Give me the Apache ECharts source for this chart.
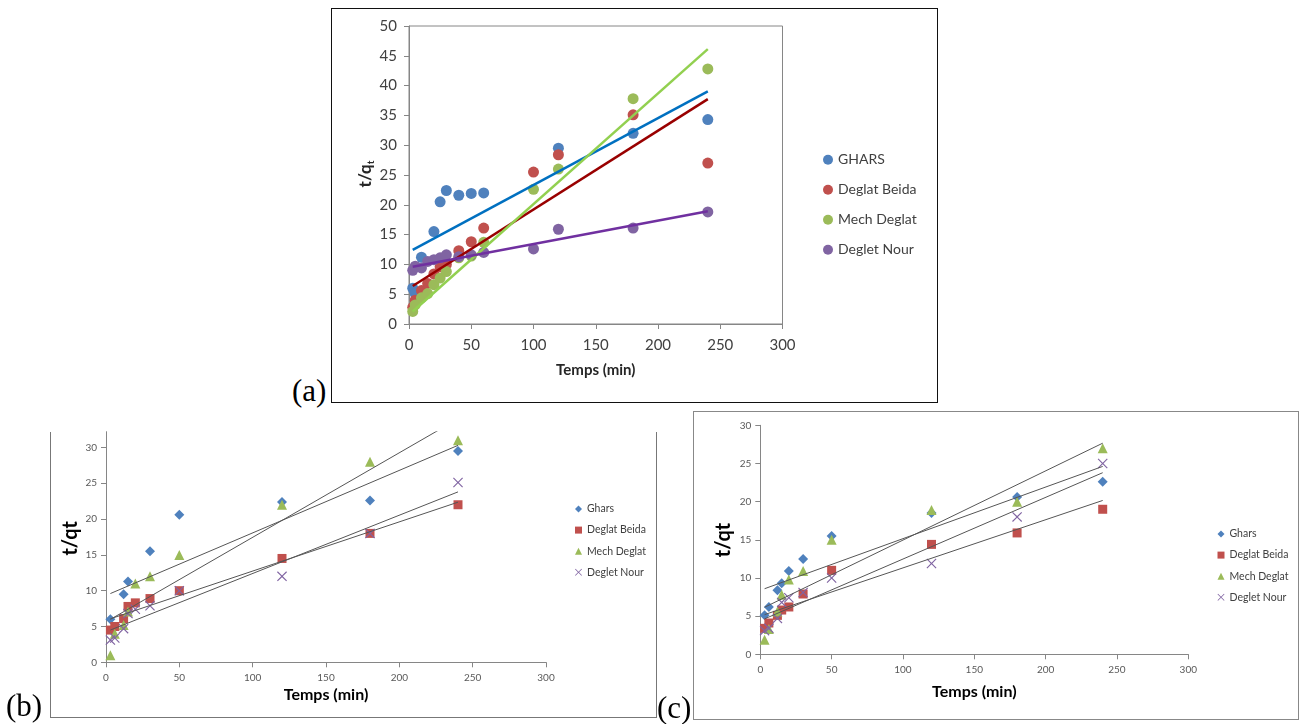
<!DOCTYPE html>
<html>
<head>
<meta charset="utf-8">
<script src="https://cdn.jsdelivr.net/npm/echarts@6/dist/echarts.min.js"></script>
<style>
  html, body { margin: 0; padding: 0; background: #fff; width: 1310px; height: 724px; overflow: hidden; }
  .abs { position: absolute; }
  #frameA { left: 331px; top: 8px; width: 605px; height: 393px; border: 1px solid #111; }
  #frameB { left: 50px; top: 432px; width: 605px; height: 285px;
            border-left: 1px solid #777; border-right: 1px solid #777; border-bottom: 1px solid #777; }
  #frameC { left: 693px; top: 411px; width: 604px; height: 307px; border: 1px solid #888; }
  .tag { font-family: 'Liberation Serif', 'DejaVu Serif', serif; font-size: 31px; line-height: 31px; color: #000; }
</style>
</head>
<body>
<div id="frameA" class="abs"></div>
<div id="frameB" class="abs"></div>
<div id="frameC" class="abs"></div>
<div id="chartA" class="abs" style="left:331px;top:8px;width:606px;height:394px"></div>
<div id="chartB" class="abs" style="left:0px;top:425px;width:690px;height:299px"></div>
<div id="chartC" class="abs" style="left:693px;top:411px;width:606px;height:309px"></div>
<div class="abs tag" style="left:292px;top:375px">(a)</div>
<div class="abs tag" style="left:6px;top:690px">(b)</div>
<div class="abs tag" style="left:657px;top:692px">(c)</div>
<script>
// ---------- (a) t/qt versus contact time, four date varieties ----------
const namesA = ['GHARS', 'Deglat Beida', 'Mech Deglat', 'Deglet Nour'];
const timesA = [3, 5, 10, 15, 20, 25, 30, 40, 50, 60, 100, 120, 180, 240];
const gharsA = [6.0, 5.1, 11.2, null, 15.5, 20.5, 22.4, 21.6, 21.9, 22.0, null, 29.5, 32.0, 34.3];
const beidaA = [2.8, 4.0, 5.6, 6.8, 8.4, 9.6, 10.0, 12.3, 13.8, 16.1, 25.5, 28.4, 35.1, 27.0];
const mechA  = [2.1, 3.2, 4.4, 5.1, 6.6, 7.7, 8.8, 11.1, 11.4, 13.7, 22.6, 26.0, 37.8, 42.8];
const nourA  = [9.0, 9.7, 9.4, 10.5, 10.8, 11.1, 11.6, 11.3, 11.6, 12.0, 12.6, 15.9, 16.1, 18.8];
// linear trend lines: t/qt = slope * t + intercept
const slopesA     = [0.1122, 0.1323, 0.1857, 0.0392];
const interceptsA = [12.11, 5.98, 1.55, 9.50];
const xTicksA = [0, 50, 100, 150, 200, 250, 300];
const yTicksA = [0, 5, 10, 15, 20, 25, 30, 35, 40, 45, 50];

// ---------- (b) ----------
const namesBC = ['Ghars', 'Deglat Beida', 'Mech Deglat', 'Deglet Nour'];
const timesBC = [3, 6, 12, 15, 20, 30, 50, 120, 180, 240];
const gharsB = [6.0, null, 9.5, 11.3, null, 15.5, 20.6, 22.4, 22.6, 29.5];
const beidaB = [4.5, 5.0, 6.1, 7.8, 8.3, 8.9, 10.0, 14.5, 18.0, 22.0];
const mechB  = [1.0, 4.0, 5.2, 7.1, 11.0, 12.0, 15.0, 22.0, 28.0, 31.0];
const nourB  = [3.1, 3.4, 4.7, 6.8, 7.4, 7.9, 10.0, 12.0, 18.0, 25.1];
const slopesB     = [0.0873, 0.0687, 0.1181, 0.0814];
const interceptsB = [9.34, 5.87, 5.64, 4.26];
const yTicksB = [0, 5, 10, 15, 20, 25, 30];
const yTopB = 32.2;

// ---------- (c) ----------
const gharsC = [5.1, 6.2, 8.4, 9.3, 10.9, 12.5, 15.5, 18.5, 20.6, 22.6];
const beidaC = [3.4, 4.1, 5.1, 5.8, 6.2, 7.9, 11.0, 14.4, 15.9, 19.0];
const mechC  = [1.9, 3.3, 5.6, 7.8, 9.8, 10.9, 15.0, 18.9, 20.0, 27.0];
const nourC  = [3.1, 3.4, 4.7, 6.8, 7.4, 8.1, 10.0, 11.9, 18.0, 25.0];
const slopesC     = [0.0676, 0.0631, 0.0907, 0.0808];
const interceptsC = [8.39, 5.01, 5.89, 4.40];
const xTicksBC = [0, 50, 100, 150, 200, 250, 300];
const yTicksC = [0, 5, 10, 15, 20, 25, 30];

const trendSpan = [3, 240];

const markerColors = ['#4F81BD', '#C0504D', '#9BBB59', '#8064A2'];
const trendColorsA = ['#0070C0', '#990000', '#92D050', '#7030A0'];
const crossPath = 'path://M0,8L8,0L50,42L92,0L100,8L58,50L100,92L92,100L50,58L8,100L0,92L42,50Z';
const symbolsBC = ['diamond', 'rect', 'triangle', crossPath];
const symbolSizesBC = [10, 9, 10, 10];

const uiFont = 'Lato, "Open Sans", "Liberation Sans", sans-serif';

function pairs(xs, ys) {
  return xs.map((x, i) => [x, ys[i]]).filter(p => p[1] !== null);
}
function trendData(slope, intercept) {
  return trendSpan.map(t => [t, slope * t + intercept]);
}

function makeSeries(names, xs, valueLists, slopes, intercepts, opts) {
  const scatter = names.map((name, i) => ({
    name: name,
    type: 'scatter',
    data: pairs(xs, valueLists[i]),
    symbol: opts.symbols[i],
    symbolSize: opts.sizes[i],
    itemStyle: { color: markerColors[i], opacity: 1 },
    emphasis: { disabled: true },
    z: 2
  }));
  const lines = names.map((name, i) => ({
    name: name + ' (linéaire)',
    type: 'line',
    data: trendData(slopes[i], intercepts[i]),
    showSymbol: false,
    symbol: 'none',
    silent: true,
    clip: true,
    lineStyle: { color: opts.lineColors[i], width: opts.lineWidth },
    z: 3
  }));
  return scatter.concat(lines);
}

function axisCommon(ticks, fontSize, labelColor, margin) {
  return {
    type: 'value',
    min: ticks[0],
    max: ticks[ticks.length - 1],
    interval: ticks[1] - ticks[0],
    axisLine: { show: true, lineStyle: { color: '#868686', width: 1 } },
    axisTick: { show: true, inside: false, length: 5, lineStyle: { color: '#868686' } },
    axisLabel: { color: labelColor, fontSize: fontSize, fontFamily: uiFont, margin: margin },
    splitLine: { show: false }
  };
}

// ---------- chart (a) ----------
const chartA = echarts.init(document.getElementById('chartA'), null, { renderer: 'canvas' });
chartA.setOption({
  animation: false,
  backgroundColor: 'transparent',
  grid: { left: 78, top: 18, width: 373.5, height: 298, show: true, borderColor: '#868686', borderWidth: 1, backgroundColor: 'transparent' },
  xAxis: Object.assign(axisCommon(xTicksA, 15, '#404040', 14), {
    name: 'Temps (min)', nameLocation: 'middle', nameGap: 39,
    nameTextStyle: { fontFamily: uiFont, fontSize: 15, fontWeight: 'bold', color: '#262626' }
  }),
  yAxis: axisCommon(yTicksA, 15, '#404040', 12),
  legend: {
    orient: 'vertical', left: 487, top: 138.7,
    itemWidth: 10, itemHeight: 10, itemGap: 14,
    textStyle: { fontFamily: uiFont, fontSize: 14, color: '#404040', lineHeight: 16 },
    data: namesA.map(n => ({ name: n, icon: 'circle' }))
  },
  graphic: [{
    type: 'text', x: 35, y: 166, rotation: Math.PI / 2,
    style: {
      text: '{a|t/q}{b|t}',
      align: 'center', verticalAlign: 'middle',
      rich: {
        a: { fontFamily: uiFont, fontSize: 17, fontWeight: 'bold', fill: '#262626', lineHeight: 20 },
        b: { fontFamily: uiFont, fontSize: 10, fontWeight: 'bold', fill: '#262626', lineHeight: 20, padding: [9, 0, 0, 0] }
      }
    }
  }],
  series: makeSeries(namesA, timesA, [gharsA, beidaA, mechA, nourA], slopesA, interceptsA,
    { symbols: ['circle', 'circle', 'circle', 'circle'], sizes: [11, 11, 11, 11], lineColors: trendColorsA, lineWidth: 2.5 })
});

// ---------- charts (b) and (c) share one style ----------
function panelOption(cfg) {
  const yAxis = axisCommon(cfg.yTicks, 10, '#595959', 9);
  yAxis.max = cfg.yMax;
  yAxis.axisLabel.customValues = cfg.yTicks;
  yAxis.axisTick.customValues = cfg.yTicks;
  return {
    animation: false,
    backgroundColor: 'transparent',
    grid: cfg.grid,
    xAxis: Object.assign(axisCommon(xTicksBC, 10, '#595959', 10), {
      name: 'Temps (min)', nameLocation: 'middle', nameGap: cfg.xNameGap,
      nameTextStyle: { fontFamily: uiFont, fontSize: 16, fontWeight: 'bold', color: '#000' }
    }),
    yAxis: yAxis,
    legend: {
      orient: 'vertical', left: cfg.legendLeft, top: cfg.legendTop,
      itemWidth: 7, itemHeight: 7, itemGap: 9.1,
      textStyle: { fontFamily: uiFont, fontSize: 10.5, color: '#404040', lineHeight: 12 },
      data: namesBC.map((n, i) => ({ name: n, icon: symbolsBC[i] }))
    },
    graphic: [{
      type: 'text', x: cfg.yTitle[0], y: cfg.yTitle[1], rotation: Math.PI / 2,
      style: { text: 't/qt', align: 'center', verticalAlign: 'middle',
               font: 'bold 20px ' + uiFont, fill: '#000' }
    }],
    series: makeSeries(namesBC, timesBC, cfg.values, cfg.slopes, cfg.intercepts,
      { symbols: symbolsBC, sizes: symbolSizesBC, lineColors: ['#555', '#555', '#555', '#555'], lineWidth: 1 })
  };
}

const chartB = echarts.init(document.getElementById('chartB'), null, { renderer: 'canvas' });
chartB.setOption(panelOption({
  grid: { left: 106, top: 6.7, width: 440, height: 230.6 },
  yTicks: yTicksB, yMax: yTopB, xNameGap: 25,
  legendLeft: 570, legendTop: 73,
  yTitle: [70.7, 113.3],
  values: [gharsB, beidaB, mechB, nourB], slopes: slopesB, intercepts: interceptsB
}));

const chartC = echarts.init(document.getElementById('chartC'), null, { renderer: 'canvas' });
chartC.setOption(panelOption({
  grid: { left: 67.3, top: 14.3, width: 428, height: 229 },
  yTicks: yTicksC, yMax: yTicksC[yTicksC.length - 1], xNameGap: 30,
  legendLeft: 519.5, legendTop: 112,
  yTitle: [30.3, 129],
  values: [gharsC, beidaC, mechC, nourC], slopes: slopesC, intercepts: interceptsC
}));
</script>
</body>
</html>
